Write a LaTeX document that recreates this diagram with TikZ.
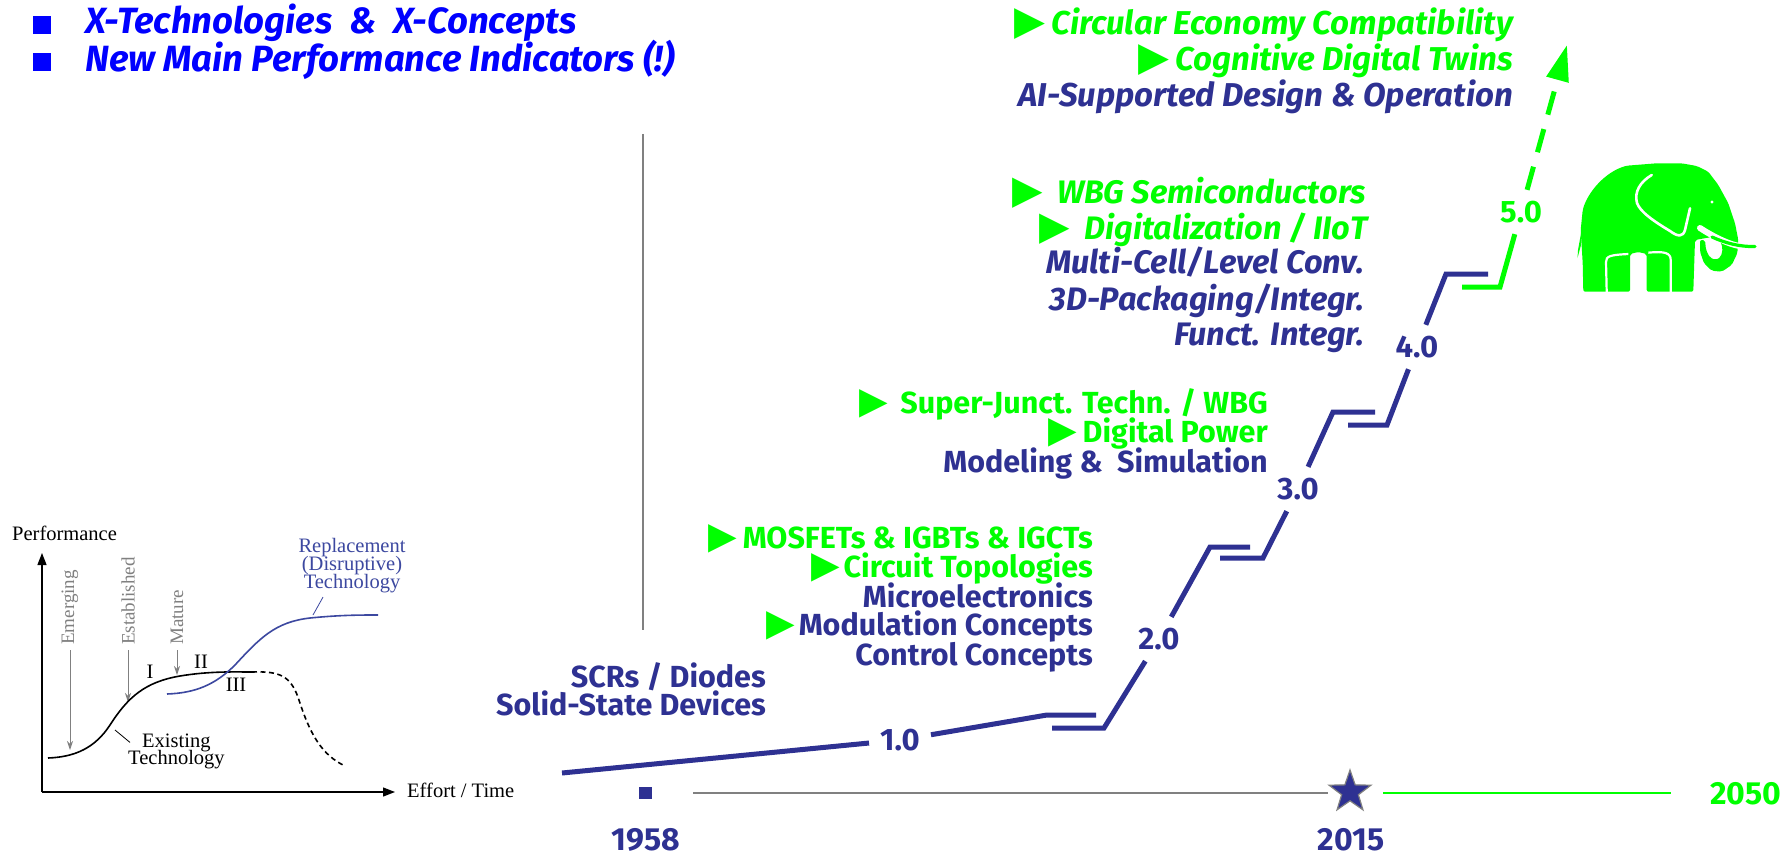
\documentclass[tikz,border=0pt]{standalone}
\usepackage{fontspec}
\setmainfont{Fira Sans}
\newfontfamily\serifface{Liberation Serif}
\newfontfamily\symface{DejaVu Sans}
\usetikzlibrary{arrows.meta,shapes.geometric}

\definecolor{navy}{RGB}{46,49,146}
\definecolor{brightgreen}{RGB}{0,255,0}
\definecolor{hiblue}{RGB}{0,0,255}
\definecolor{curveblue}{RGB}{60,72,160}
\definecolor{labelgray}{RGB}{128,128,128}

\newcommand\tri{\scalebox{1.22}{\symface\char"25B6}}

\tikzset{
  lead/.style={font=\fontsize{36.5}{40}\selectfont\bfseries\itshape, text=hiblue, anchor=base west, inner sep=0pt},
  note/.style={font=\fontsize{33}{38}\selectfont\bfseries\itshape, anchor=base east, inner sep=0pt},
  wnote/.style={font=\fontsize{32.5}{36}\selectfont\bfseries\itshape, anchor=base east, inner sep=0pt},
  item/.style={font=\fontsize{30.5}{34}\selectfont\bfseries, anchor=base east, inner sep=0pt},
  level/.style={font=\fontsize{31}{34}\selectfont\bfseries, text=navy, inner sep=11pt},
  year/.style={font=\fontsize{32}{36}\selectfont\bfseries, text=navy, inner sep=0pt},
  stair/.style={draw=navy, line width=5pt},
  gstair/.style={draw=brightgreen, line width=5pt},
  bullet/.style={fill=hiblue, minimum size=18pt, inner sep=0pt},
  serif/.style={font=\serifface\fontsize{20.5}{24}\selectfont, inner sep=0pt},
  phase/.style={font=\serifface\fontsize{19}{22}\selectfont, text=labelgray, rotate=90, anchor=west, inner sep=0pt},
  phasearrow/.style={draw=labelgray, line width=1pt, shorten <=5pt, -{Stealth[length=9pt,width=6pt]}},
  axis/.style={line width=1.3pt, -{Triangle[length=12pt,width=9pt]}},
}

\begin{document}
\begin{tikzpicture}[x=1pt,y=-1pt]
\useasboundingbox (0,0) rectangle (1788,856);
\fill[white] (0,0) rectangle (1788,856);

% ---- headline bullets
\node[bullet] (b1) at (42,25) {};
\node[lead] (h1) at (85,34) {X-Technologies\ \ \&\ \ X-Concepts};
\node[bullet] (b2) at (42,62) {};
\node[lead] (h2) at (85,72) {New Main Performance Indicators (!)};

% ---- 5.0 topics
\node[note, text=brightgreen] (c1) at (1513,35) {\tri\hspace{6pt}Circular Economy Compatibility};
\node[note, text=brightgreen] (c2) at (1513,71) {\tri\hspace{6pt}Cognitive Digital Twins};
\node[note, text=navy] (c3) at (1513,107) {AI-Supported Design \& Operation};

% ---- 4.0 topics
\node[wnote, text=brightgreen] (w1) at (1366,203) {\tri\hspace{14pt}WBG Semiconductors};
\node[wnote, text=brightgreen] (w2) at (1368,239) {\tri\hspace{14pt}Digitalization / IIoT};
\node[wnote, text=navy] (w3) at (1364,273) {Multi-Cell/Level Conv.};
\node[wnote, text=navy] (w4) at (1364,310) {3D-Packaging/Integr.};
\node[wnote, text=navy] (w5) at (1364,345) {Funct. Integr.};

% ---- 3.0 topics
\node[item, text=brightgreen] (d1) at (1268,413) {\tri\hspace{12pt}Super-Junct. Techn. / WBG};
\node[item, text=brightgreen] (d2) at (1268,442) {\tri\hspace{6pt}Digital Power};
\node[item, text=navy] (d3) at (1268,472) {Modeling \&\ \ Simulation};

% ---- 2.0 topics
\node[item, text=brightgreen] (m1) at (1093,548) {\tri\hspace{6pt}MOSFETs \& IGBTs \& IGCTs};
\node[item, text=brightgreen] (m2) at (1093,577) {\tri\hspace{4pt}Circuit Topologies};
\node[item, text=navy] (m3) at (1093,607) {Microelectronics};
\node[item, text=navy] (m4) at (1093,635) {{\color{brightgreen}\tri}\hspace{4pt}Modulation Concepts};
\node[item, text=navy] (m5) at (1093,665) {Control Concepts};

% ---- 1.0 topics
\node[item, text=navy] (r1) at (766,687) {SCRs / Diodes};
\node[item, text=navy] (r2) at (766,715) {Solid-State Devices};

% ---- staircase
\node[level] (L1) at (900,740) {1.0};
\node[level] (L2) at (1159,639) {2.0};
\node[level] (L3) at (1298,489) {3.0};
\node[level] (L4) at (1417,347) {4.0};
\node[level, text=brightgreen] (L5) at (1521,212) {5.0};

\coordinate (s0) at (562,773);
\coordinate (s1) at (1047,715);  \coordinate (s1e) at (1096,715);
\coordinate (t2a) at (1052,728); \coordinate (t2b) at (1104,728);
\coordinate (u2) at (1210,547);  \coordinate (u2e) at (1250,547);
\coordinate (t3a) at (1220,558); \coordinate (t3b) at (1263,558);
\coordinate (u3) at (1333,412);  \coordinate (u3e) at (1375,412);
\coordinate (t4a) at (1348,425); \coordinate (t4b) at (1387,425);
\coordinate (u4) at (1446,274);  \coordinate (u4e) at (1488,274);
\coordinate (t5a) at (1462,287); \coordinate (t5b) at (1500,287);
\coordinate (tip) at (1567,45);

\draw[stair] (s0) -- (L1);
\draw[stair] (L1) -- (s1) -- (s1e);
\draw[stair] (t2a) -- (t2b) -- (L2);
\draw[stair] (L2) -- (u2) -- (u2e);
\draw[stair] (t3a) -- (t3b) -- (L3);
\draw[stair] (L3) -- (u3) -- (u3e);
\draw[stair] (t4a) -- (t4b) -- (L4);
\draw[stair] (L4) -- (u4) -- (u4e);
\draw[gstair] (t5a) -- (t5b) -- (L5);
\draw[gstair, dash pattern=on 24pt off 15pt, -{Triangle[length=36pt,width=22pt]}] (L5) -- (tip);

% ---- time axis
\node[fill=navy, minimum width=13pt, minimum height=12pt, inner sep=0pt] (sq) at (645,793) {};
\node[star, star points=5, star point ratio=2.5, fill=navy, draw=gray, line width=1.2pt,
      minimum size=44pt, inner sep=0pt] (st) at (1350,792) {};
\node[year, text=brightgreen] (y50) at (1746,794) {2050};
\node[year, anchor=base] (y58) at (646,850) {1958};
\node[year, anchor=base] (y15) at (1351,850) {2015};
\draw[gray, line width=2pt, shorten <=48pt, shorten >=22pt] (sq.center) -- (st.center |- sq.center);
\draw[brightgreen, line width=2.2pt, shorten <=33pt, shorten >=75pt] (st.center |- sq.center) -- (y50.center |- sq.center);

% ---- separator
\draw[draw=gray, line width=2pt] (643,134) -- (643,630);

% ---- technology S-curves
\coordinate (O) at (42,792);
\coordinate (ytop) at (42,553);
\coordinate (xend) at (395,792);
\draw[axis] (O) -- (ytop);
\draw[axis] (O) -- (xend);
\node[serif, anchor=base west] (perf) at (12,540) {Performance};
\node[serif, anchor=base west] (eff) at (407,797) {Effort / Time};

\node[phase] (ph1) at (70,645) {Emerging};
\node[phase] (ph2) at (128,645) {Established};
\node[phase] (ph3) at (177,645) {Mature};
\coordinate (ph1t) at (70,750);
\coordinate (ph2t) at (128,702);
\coordinate (ph3t) at (177,675);
\draw[phasearrow] (ph1) -- (ph1t);
\draw[phasearrow] (ph2) -- (ph2t);
\draw[phasearrow] (ph3) -- (ph3t);

\node[serif] (nI) at (150,672) {I};
\node[serif] (nII) at (201,662) {II};
\node[serif] (nIII) at (236,685) {III};

\draw[line width=1.6pt] (48,758) .. controls (75,757) and (95,748) .. (110,725)
  .. controls (128,697) and (145,682) .. (180,676)
  .. controls (210,671) and (235,672) .. (252,672);
\draw[line width=1.6pt, dash pattern=on 5pt off 3.5pt] (252,672) .. controls (280,671) and (290,676) .. (298,697)
  .. controls (310,735) and (322,755) .. (345,766);
\draw[curveblue, line width=1.6pt] (167,694) .. controls (195,693) and (215,685) .. (235,665)
  .. controls (260,638) and (275,622) .. (310,618)
  .. controls (340,615) and (360,615) .. (378,615);

\node[serif, anchor=base west] (ex1) at (142,747) {Existing};
\node[serif, anchor=base west] (ex2) at (128,764) {Technology};
\coordinate (exA) at (115,730);
\draw[line width=0.8pt] (exA) -- ([xshift=-12pt]ex1.west);

\node[serif, text=curveblue, anchor=base] (rp1) at (352,552) {Replacement};
\node[serif, text=curveblue, anchor=base] (rp2) at (352,570) {(Disruptive)};
\node[serif, text=curveblue, anchor=base] (rp3) at (352,588) {Technology};
\coordinate (rpA) at (313,615);
\draw[curveblue, line width=0.8pt] (rpA) -- ([xshift=-29pt,yshift=-4.5pt]rp3.south);

% ---- elephant
\fill[brightgreen, rounded corners=2pt]
  (1583.3,291.7) -- (1582.7,263.3) -- (1580.7,230) -- (1582.7,210)
  .. controls (1588,192) and (1605,172) .. (1626.7,165.7)
  -- (1656.7,163.3) -- (1681.7,163.3) -- (1696.7,166) -- (1708.3,171.7)
  -- (1718.3,185) -- (1728.3,203.3) -- (1735,223.3) -- (1738.3,240)
  -- (1737.3,253.3) -- (1731.7,265) -- (1721.7,271.7) -- (1711.7,270.7)
  -- (1704,263.3) -- (1700,251.7) -- (1700,240) -- (1705,240)
  -- (1706,250) -- (1710,257.7) -- (1716,260) -- (1721,256.7)
  -- (1722.7,248.3) -- (1720,240) -- (1713.3,236.7) -- (1695,240)
  -- (1693.3,291.7) -- (1646.7,291.7) -- (1646.7,254) -- (1638.3,252)
  -- (1630,254) -- (1630,291.7) -- cycle;
\fill[brightgreen] (1582,228) -- (1578,250) -- (1577.5,258) -- (1581,245) -- cycle;
\draw[white, line width=2.6pt, line cap=round]
  (1651.7,175) .. controls (1640,182) and (1634,192) .. (1637,203)
  .. controls (1640,212) and (1655,222) .. (1670,231)
  .. controls (1678,237) and (1683,237) .. (1685,230)
  -- (1690,208.3);
\draw[white, line width=2.2pt] (1606.7,292) -- (1606,262) .. controls (1606,256) and (1610,255) .. (1628.3,254);
\draw[white, line width=2.2pt] (1670.7,292) -- (1670.7,260) .. controls (1670.7,253) and (1665,251) .. (1648.3,252.7);
\draw[white, line width=6pt, line cap=round] (1700,228) .. controls (1712,236) and (1730,245) .. (1740,246);
\draw[brightgreen, line width=3.2pt, line cap=round] (1712,237) .. controls (1725,243) and (1740,247) .. (1755,246.5);
\fill[white] (1712,202) circle (1.6pt);
\end{tikzpicture}
\end{document}
